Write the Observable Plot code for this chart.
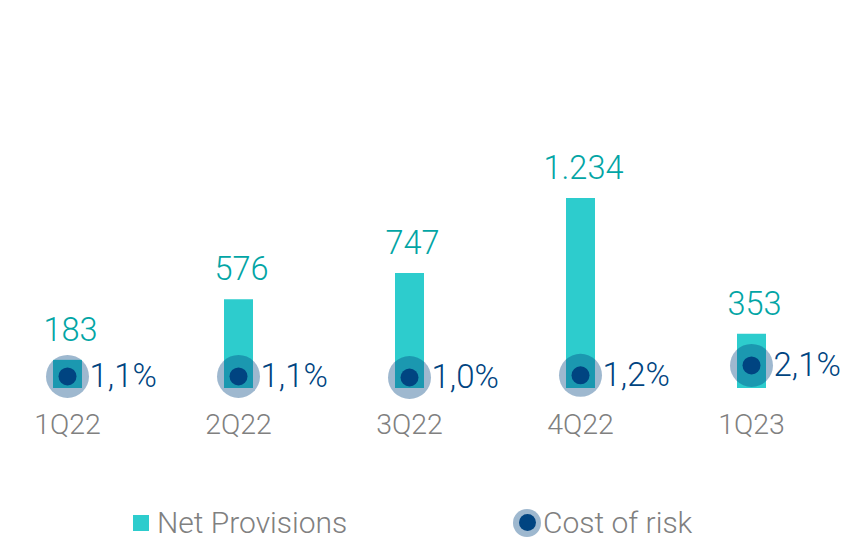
<!DOCTYPE html>
<html>
<head>
<meta charset="utf-8">
<script src="https://cdn.jsdelivr.net/npm/d3@7"></script>
<script src="https://cdn.jsdelivr.net/npm/@observablehq/plot@0.6"></script>
<style>
  html, body { margin: 0; padding: 0; background: #fff; }
  #wrap { position: relative; width: 855px; height: 540px; font-family: Roboto, "Open Sans", sans-serif; }
  #legend { position: absolute; left: 0; top: 495px; width: 855px; height: 45px; }
  .item { position: absolute; display: flex; align-items: center; font-size: 30px; font-weight: 300; color: #808080; }
  .sq { width: 16px; height: 16px; background: #2dcccd; margin-right: 8px; }
  .ci { width: 28px; height: 28px; border-radius: 50%; background: rgba(0,68,129,0.38); display: flex; align-items: center; justify-content: center; margin-right: 2px; }
  .ci span { width: 17px; height: 17px; border-radius: 50%; background: #004481; display: block; }
</style>
</head>
<body>
<div id="wrap">
  <div id="chart"></div>
  <div id="legend">
    <div class="item" style="left:133px; top:10px;"><div class="sq"></div><span>Net Provisions</span></div>
    <div class="item" style="left:513px; top:10px;"><div class="ci"><span></span></div><span>Cost of risk</span></div>
  </div>
</div>
<script>
const quarters = ["1Q22", "2Q22", "3Q22", "4Q22", "1Q23"];
const provisions = [183, 576, 747, 1234, 353];
const provisionLabels = ["183", "576", "747", "1.234", "353"];
const costOfRisk = [1.1, 1.1, 1.0, 1.2, 2.1];
const costOfRiskLabels = ["1,1%", "1,1%", "1,0%", "1,2%", "2,1%"];

// cost of risk drawn on the same vertical scale: 1% ≈ 71.5 provision units
const corFactor = 71.5;

const data = quarters.map((q, i) => ({
  q,
  prov: provisions[i],
  provLabel: provisionLabels[i],
  cor: costOfRisk[i],
  corLabel: costOfRiskLabels[i]
}));

const chart = Plot.plot({
  width: 855,
  height: 495,
  marginLeft: 66,
  marginRight: 103,
  marginTop: 34,
  marginBottom: 107,
  style: { fontFamily: "Roboto, 'Open Sans', sans-serif", background: "transparent" },
  x: { type: "point", domain: quarters, padding: 0, axis: null },
  y: { domain: [0, 2300], axis: null },
  marks: [
    Plot.ruleX(data, { x: "q", y1: 0, y2: "prov", stroke: "#2dcccd", strokeWidth: 29 }),
    Plot.dot(data, { x: "q", y: d => d.cor * corFactor, r: 21.5, fill: "#004481", fillOpacity: 0.38, stroke: "none" }),
    Plot.dot(data, { x: "q", y: d => d.cor * corFactor, r: 9, fill: "#004481", stroke: "none" }),
    Plot.text(data, { x: "q", y: "prov", text: "provLabel", dy: -30, dx: 3, lineAnchor: "middle", textAnchor: "middle", fill: "#02a5a5", fontSize: 32.5, fontWeight: 300 }),
    Plot.text(data, { x: "q", y: d => d.cor * corFactor, text: "corLabel", dx: 22, lineAnchor: "middle", textAnchor: "start", fill: "#004481", fontSize: 33, fontWeight: 300 }),
    Plot.text(data, { x: "q", text: "q", frameAnchor: "bottom", dy: 36, lineAnchor: "middle", textAnchor: "middle", fill: "#808080", fontSize: 28.5, fontWeight: 300 })
  ]
});
document.getElementById("chart").appendChild(chart);
</script>
</body>
</html>
